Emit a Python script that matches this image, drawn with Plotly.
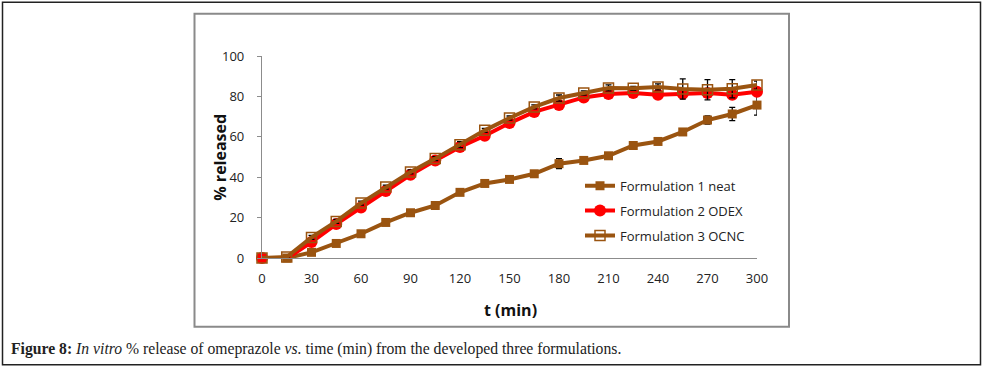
import plotly.graph_objects as go

time_min = [0, 15, 30, 45, 60, 75, 90, 105, 120, 135, 150, 165, 180, 195, 210, 225, 240, 255, 270, 285, 300]

f1_neat = [0, 0, 2.8, 7.2, 12.0, 17.6, 22.4, 26.0, 32.5, 36.9, 38.9, 41.7, 46.7, 48.3, 50.6, 55.7, 57.7, 62.4, 68.3, 71.3, 75.7]
f1_err = [0, 0, 0.5, 1, 1, 1, 1, 1, 1, 1, 1, 1, 2.5, 1, 1, 1, 1, 1, 2, 3.3, 5]

f2_odex = [0, -0.3, 7.9, 16.8, 25.0, 33.2, 41.2, 48.3, 55.0, 60.5, 66.8, 72.3, 75.7, 79.5, 81.2, 81.7, 80.8, 81.3, 81.7, 80.8, 82.3]
f2_err = [0, 0, 1, 1, 1, 1, 1, 1, 1, 1, 1, 1, 1.5, 1, 1.5, 1, 1.5, 2, 2, 2, 1.5]

f3_ocnc = [0, 0.5, 10.2, 18.1, 27.2, 35.1, 42.6, 49.2, 56.1, 63.2, 69.3, 74.8, 79.2, 81.7, 84.2, 84.0, 84.7, 83.7, 83.3, 83.8, 85.6]
f3_err = [0, 0, 1, 1, 1, 1, 1, 1, 1.5, 1, 1, 1, 1.5, 1, 1.5, 1, 1.5, 5, 5, 4.5, 2]

x_ticks = [0, 30, 60, 90, 120, 150, 180, 210, 240, 270, 300]
y_ticks = [0, 20, 40, 60, 80, 100]

names = ["Formulation 1 neat", "Formulation 2 ODEX", "Formulation 3 OCNC"]

BROWN = "#9A5410"
RED = "#FF0000"
W, H = 984, 369
L, R_, T, B = 262, 757, 56.3, 258.3


def px(xp):
    return (xp - L) / (R_ - L)


def py(yp):
    return (B - yp) / (B - T)


fig = go.Figure()
err_style = dict(type="data", color="black", thickness=1.3, width=3, visible=True)

fig.add_trace(go.Scatter(
    x=time_min, y=f1_neat, name=names[0], mode="lines+markers", legendgroup="a",
    cliponaxis=False,
    line=dict(color=BROWN, width=4),
    marker=dict(symbol="square", size=9, color=BROWN),
    error_y=dict(array=f1_err, **err_style)))
fig.add_trace(go.Scatter(
    x=time_min, y=f2_odex, name=names[1], mode="lines+markers", legendgroup="b",
    cliponaxis=False,
    line=dict(color=RED, width=4),
    marker=dict(symbol="circle", size=12, color=RED),
    error_y=dict(array=f2_err, **err_style)))
fig.add_trace(go.Scatter(
    x=time_min, y=f3_ocnc, name=names[2], mode="lines+markers", legendgroup="c",
    cliponaxis=False,
    line=dict(color=BROWN, width=4),
    marker=dict(symbol="square-open", size=10, color=BROWN, line=dict(width=1.5, color=BROWN)),
    error_y=dict(array=f3_err, **err_style)))

tick_font = dict(family="Open Sans", size=13, color="#222")

fig.update_layout(
    width=W, height=H,
    margin=dict(l=L, r=W - R_, t=T, b=H - B, pad=0),
    paper_bgcolor="white", plot_bgcolor="white",
    showlegend=True,
    legend=dict(x=px(580), y=py(171), xanchor="left", yanchor="top",
                font=dict(family="Open Sans", size=13, color="#222"),
                bgcolor="rgba(0,0,0,0)", tracegroupgap=5, traceorder="grouped"),
    xaxis=dict(range=[0, 300], tickvals=x_ticks, showgrid=False, zeroline=False,
               showline=True, linecolor="#8c8c8c", linewidth=1.2,
               ticks="", tickfont=tick_font, ticklabelstandoff=8),
    yaxis=dict(range=[0, 100], tickvals=y_ticks, showgrid=False, zeroline=False,
               showline=True, linecolor="#8c8c8c", linewidth=1.2,
               ticks="outside", ticklen=4, tickcolor="#8c8c8c",
               tickfont=tick_font, ticklabelstandoff=10),
    shapes=[
        dict(type="rect", xref="paper", yref="paper", x0=px(2.5), x1=px(980.5), y0=py(365), y1=py(2.5),
             line=dict(color="#222", width=1.5), layer="below"),
        dict(type="rect", xref="paper", yref="paper", x0=px(194.5), x1=px(789), y0=py(327), y1=py(14),
             line=dict(color="#8a8a8a", width=2), layer="below"),
    ],
    annotations=[
        dict(text="<b>t (min)</b>", xref="paper", yref="paper", x=px(510), y=py(310),
             xanchor="center", yanchor="middle",
             showarrow=False, font=dict(family="Open Sans", size=16, color="#111")),
        dict(text="<b>% released</b>", xref="paper", yref="paper", x=px(220), y=py(158),
             xanchor="center", yanchor="middle",
             showarrow=False, textangle=-90, font=dict(family="Open Sans", size=16, color="#111")),
        dict(text="<b>Figure 8:</b> <i>In vitro</i> % release of omeprazole <i>vs.</i> time (min) from the developed three formulations.",
             xref="paper", yref="paper", x=px(9), y=py(349), xanchor="left", yanchor="middle",
             showarrow=False, font=dict(family="Liberation Serif", size=15.7, color="#222")),
    ],
)

fig.write_html("out.html", config={"displayModeBar": False},
               post_script="document.body.style.margin='0';document.body.style.overflow='hidden';")
